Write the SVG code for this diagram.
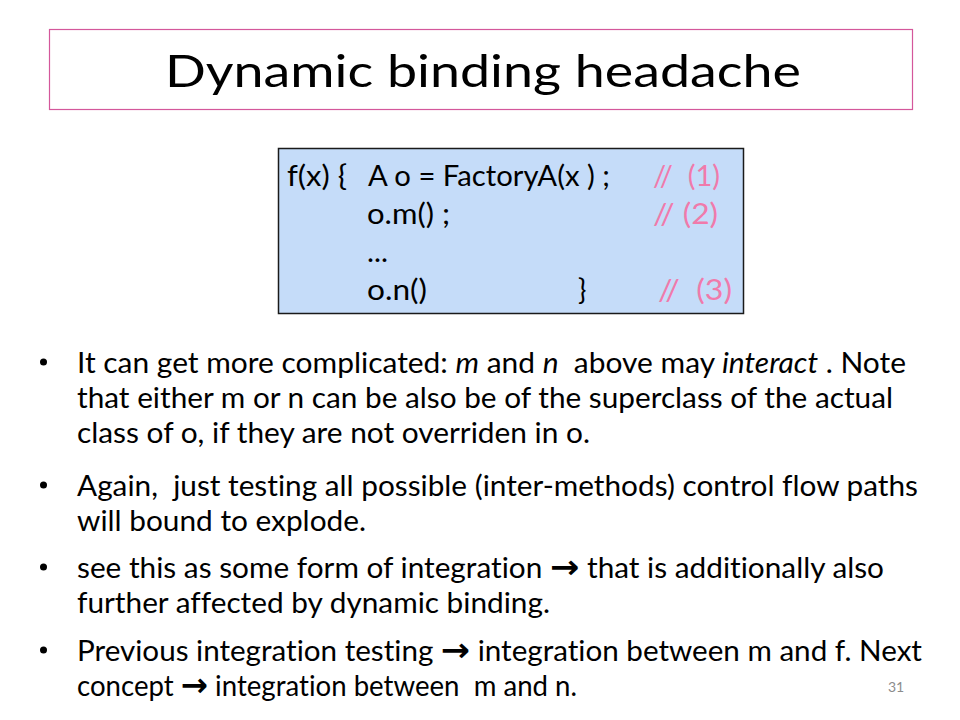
<svg xmlns="http://www.w3.org/2000/svg" width="960" height="720" viewBox="0 0 960 720">
<style>
text { font-family: Lato, "Open Sans", "Liberation Sans", sans-serif; fill: #000; white-space: pre; font-variant-ligatures: none; font-feature-settings: "liga" 0, "clig" 0; }
.title { font-size: 45px; }
.code { font-size: 28px; }
.cmt { fill: #F07AAB; }
.body { font-size: 28px; }
.it { font-style: italic; }
.arr { font-family: "DejaVu Sans", sans-serif; font-weight: bold; font-size: 33px; }
.num { font-size: 14px; fill: #8C8C8C; }
.dot { fill: #000; }
</style>
<rect width="960" height="720" fill="#FFFFFF"/>
<g id="title">
  <rect x="49.5" y="29.5" width="863" height="80" fill="#FFFFFF" stroke="#D4579B" stroke-width="1.2"/>
  <text class="title" x="165" y="87" textLength="636" lengthAdjust="spacingAndGlyphs">Dynamic binding headache</text>
</g>
<g id="code-box">
  <rect x="278.5" y="148.5" width="465" height="165" fill="#C5DCF9" stroke="#1A1A1A" stroke-width="1.5"/>
  <text class="code" x="287" y="186" textLength="60" lengthAdjust="spacingAndGlyphs">f(x) {</text>
  <text class="code" x="368" y="186" textLength="242" lengthAdjust="spacingAndGlyphs">A o = FactoryA(x ) ;</text>
  <text class="code cmt" x="653" y="186" textLength="67" lengthAdjust="spacingAndGlyphs">//  (1)</text>
  <text class="code" x="367" y="224" textLength="83" lengthAdjust="spacingAndGlyphs">o.m() ;</text>
  <text class="code cmt" x="653" y="224" textLength="65" lengthAdjust="spacingAndGlyphs">// (2)</text>
  <text class="code" x="367" y="262" textLength="21" lengthAdjust="spacingAndGlyphs">...</text>
  <text class="code" x="367" y="300" textLength="60" lengthAdjust="spacingAndGlyphs">o.n()</text>
  <text class="code" x="578" y="300">}</text>
  <text class="code cmt" x="658" y="300" textLength="74" lengthAdjust="spacingAndGlyphs">//  (3)</text>
</g>
<g id="bullets">
  <circle class="dot" cx="43.5" cy="362" r="3.5"/>
  <text class="body" x="77" y="373" textLength="829" lengthAdjust="spacingAndGlyphs">It can get more complicated: <tspan class="it">m</tspan> and <tspan class="it">n</tspan>  above may <tspan class="it">interact</tspan> . Note</text>
  <text class="body" x="77" y="408" textLength="816" lengthAdjust="spacingAndGlyphs">that either m or n can be also be of the superclass of the actual</text>
  <text class="body" x="77" y="443" textLength="513" lengthAdjust="spacingAndGlyphs">class of o, if they are not overriden in o.</text>

  <circle class="dot" cx="43.5" cy="485" r="3.5"/>
  <text class="body" x="77" y="496" textLength="841" lengthAdjust="spacingAndGlyphs">Again,  just testing all possible (inter-methods) control flow paths</text>
  <text class="body" x="77" y="531" textLength="289" lengthAdjust="spacingAndGlyphs">will bound to explode.</text>

  <circle class="dot" cx="43.5" cy="567" r="3.5"/>
  <text class="body" x="77" y="578" textLength="807" lengthAdjust="spacingAndGlyphs">see this as some form of integration <tspan class="arr">→</tspan> that is additionally also</text>
  <text class="body" x="77" y="613" textLength="473" lengthAdjust="spacingAndGlyphs">further affected by dynamic binding.</text>

  <circle class="dot" cx="43.5" cy="650" r="3.5"/>
  <text class="body" x="77" y="661" textLength="845" lengthAdjust="spacingAndGlyphs">Previous integration testing <tspan class="arr">→</tspan> integration between m and f. Next</text>
  <text class="body" x="77" y="696" textLength="500" lengthAdjust="spacingAndGlyphs">concept <tspan class="arr">→</tspan> integration between  m and n.</text>
</g>
<g id="page-number">
  <text class="num" x="888" y="692">31</text>
</g>
</svg>
